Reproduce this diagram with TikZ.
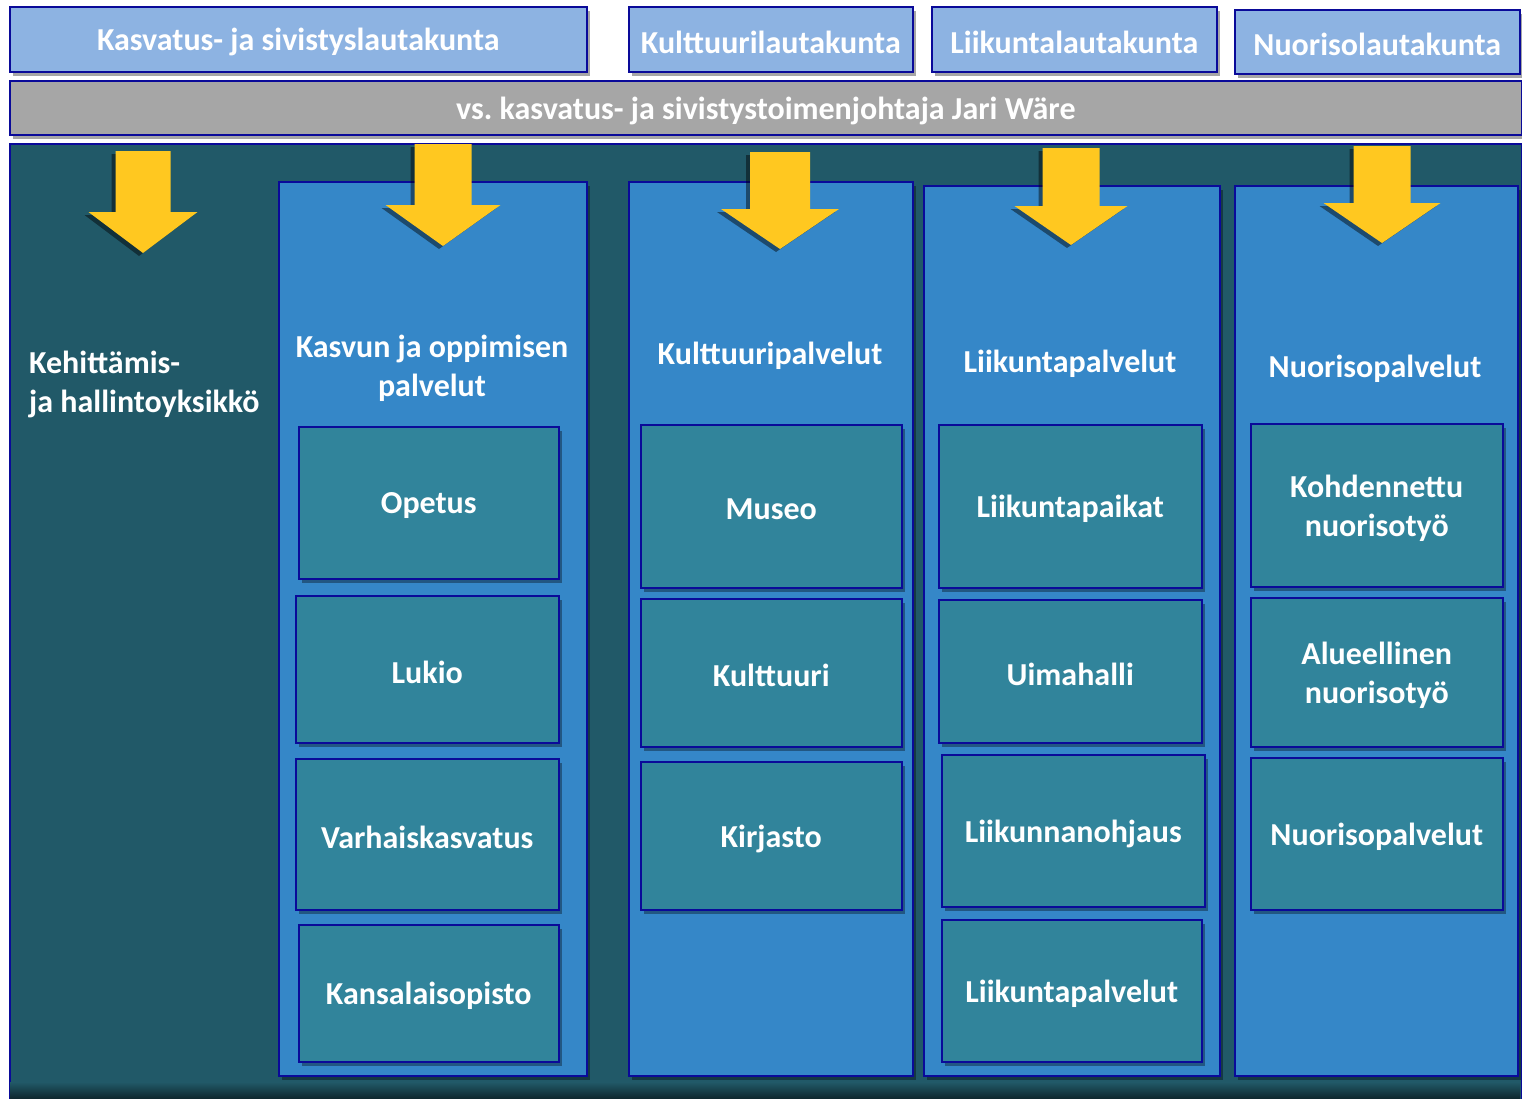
\documentclass[tikz,border=0pt]{standalone}
\usepackage{fontspec}
\setmainfont{Carlito}
\usetikzlibrary{shadows}
\frenchspacing
\definecolor{lblue}{HTML}{8DB3E2}
\definecolor{greybar}{HTML}{A6A6A6}
\definecolor{bgteal}{HTML}{215968}
\definecolor{colblue}{HTML}{3587C8}
\definecolor{innerteal}{HTML}{31849B}
\definecolor{navy}{HTML}{0A0A99}
\definecolor{ayellow}{HTML}{FFC820}
\newcommand\bx[7]{\node[#6, anchor=north west, minimum width={#4pt-#2pt}, minimum height={#5pt-#3pt},
  label={[txt, align=center, inner sep=0pt, yshift=-3pt]center:{#7}}] (#1) at (#2,#3) {};}
\newcommand\yarrow[6]{%
  \fill[black, opacity=0.45] ({#1-#4-4},{#2+3}) -- ({#1+#4-4},{#2+3}) -- ({#1+#4-4},{#3+3}) -- ({#1+#5-4},{#3+3}) -- ({#1-4},{#6+3}) -- ({#1-#5-4},{#3+3}) -- ({#1-#4-4},{#3+3}) -- cycle;
  \fill[ayellow] ({#1-#4},#2) -- ({#1+#4},#2) -- ({#1+#4},#3) -- ({#1+#5},#3) -- (#1,#6) -- ({#1-#5},#3) -- ({#1-#4},#3) -- cycle;}
\begin{document}
\begin{tikzpicture}[x=1pt,y=-1pt,
  txt/.style={font=\bfseries\fontsize{32}{39}\selectfont, text=white},
  shad/.style={drop shadow={shadow xshift=3pt, shadow yshift=-4pt, fill=black, opacity=0.35}},
  board/.style={draw=navy, line width=1.5pt, fill=lblue, inner sep=0pt, shad},
  director/.style={draw=navy, line width=1.5pt, fill=greybar, inner sep=0pt, shad},
  area/.style={draw=navy, line width=1.5pt, fill=bgteal, inner sep=0pt},
  column/.style={draw=navy, line width=1.5pt, fill=colblue, inner sep=0pt, shad},
  unit/.style={draw=navy, line width=1.5pt, fill=innerteal, inner sep=0pt, shad},
  title/.style={txt, align=center, inner sep=0pt}]
\useasboundingbox (0,0) rectangle (1522,1098);
\fill[white] (0,0) rectangle (1522,1098);
% top boards
\bx{b1}{9}{6}{586}{71}{board}{Kasvatus- ja sivistyslautakunta}
\bx{b2}{628}{6}{912}{71}{board}{Kulttuurilautakunta}
\bx{b3}{931}{6}{1216}{71}{board}{Liikuntalautakunta}
\bx{b4}{1234}{9}{1519}{73}{board}{Nuorisolautakunta}
% director
\bx{dir}{9}{80}{1521}{134}{director}{vs. kasvatus- ja sivistystoimenjohtaja Jari Wäre}
% background area
\bx{area}{9}{143}{1521}{1110}{area}{}
\shade[top color=bgteal, bottom color=black!55!bgteal] (10,1082) rectangle (1520,1098);
% columns
\bx{c1}{278}{181}{586}{1075}{column}{}
\bx{c2}{628}{181}{912}{1075}{column}{}
\bx{c3}{923}{185}{1219}{1075}{column}{}
\bx{c4}{1234}{185}{1517}{1075}{column}{}
% arrows
\yarrow{143}{151}{212}{27.5}{54.5}{253}
\yarrow{443}{144}{205}{28.5}{57.5}{246}
\yarrow{780}{152}{209}{30}{59}{249}
\yarrow{1071}{148}{206}{28.5}{56.5}{245}
\yarrow{1382}{146}{203}{28.5}{58.5}{243}
% titles
\node[txt, align=left, anchor=west, inner sep=0pt] (t0) at (29,384) {Kehittämis-\\ja hallintoyksikkö};
\node[title] (t1) at (432,368) {Kasvun ja oppimisen\\palvelut};
\node[title] (t2) at (770,356) {Kulttuuripalvelut};
\node[title] (t3) at (1070,364) {Liikuntapalvelut};
\node[title] (t4) at (1375,369) {Nuorisopalvelut};
% units column 1
\bx{u11}{298}{426}{558}{578}{unit}{Opetus}
\bx{u12}{295}{595}{558}{742}{unit}{Lukio}
\bx{u13}{295}{758}{558}{909}{unit}{Varhaiskasvatus}
\bx{u14}{298}{924}{558}{1061}{unit}{Kansalaisopisto}
% column 2
\bx{u21}{640}{424}{901}{587}{unit}{Museo}
\bx{u22}{640}{598}{901}{746}{unit}{Kulttuuri}
\bx{u23}{640}{761}{901}{909}{unit}{Kirjasto}
% column 3
\bx{u31}{938}{424}{1201}{587}{unit}{Liikuntapaikat}
\bx{u32}{938}{599}{1201}{742}{unit}{Uimahalli}
\bx{u33}{941}{754}{1204}{906}{unit}{Liikunnanohjaus}
\bx{u34}{941}{919}{1201}{1061}{unit}{Liikuntapalvelut}
% column 4
\bx{u41}{1250}{423}{1502}{586}{unit}{Kohdennettu\\nuorisotyö}
\bx{u42}{1250}{597}{1502}{746}{unit}{Alueellinen\\nuorisotyö}
\bx{u43}{1250}{757}{1502}{909}{unit}{Nuorisopalvelut}
\end{tikzpicture}
\end{document}
